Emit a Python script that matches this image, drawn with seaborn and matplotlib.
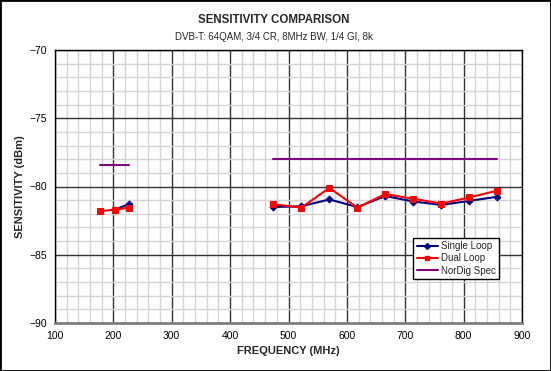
import matplotlib
matplotlib.use("Agg")
import matplotlib.pyplot as plt
import seaborn as sns
import pandas as pd
from matplotlib.ticker import MultipleLocator
from matplotlib.lines import Line2D
from matplotlib.patches import Rectangle

# --- Data ---
single_low_freq = [202, 226]
single_low = [-81.7, -81.3]
dual_low_freq = [177, 202, 226]
dual_low = [-81.8, -81.7, -81.55]

high_freq = [474, 522, 570, 618, 666, 714, 762, 810, 858]
single_high = [-81.5, -81.45, -80.95, -81.5, -80.7, -81.1, -81.35, -81.05, -80.75]
dual_high = [-81.3, -81.55, -80.1, -81.55, -80.55, -80.9, -81.25, -80.8, -80.3]

spec_low_freq = [177, 226]
spec_low = [-78.4, -78.4]
spec_high_freq = [474, 858]
spec_high = [-78.0, -78.0]

NAVY = "#000080"
RED = "#ff0000"
PURPLE = "#800080"

sns.set_style("white")
plt.rcParams["font.family"] = ["Liberation Sans", "DejaVu Sans"]

fig = plt.figure(figsize=(5.51, 3.71), dpi=100)
ax = fig.add_axes([55 / 551, (371 - 323) / 371, 467 / 551, 273 / 371])

# --- Series, drawn segment by segment (gap between VHF and UHF) ---
for fx, fy in [(single_low_freq, single_low), (high_freq, single_high)]:
    sns.lineplot(x=fx, y=fy, ax=ax, color=NAVY, marker="D", markersize=3.5,
                 markeredgecolor=NAVY, lw=1.5, estimator=None, sort=False, zorder=4)
for fx, fy in [(dual_low_freq, dual_low), (high_freq, dual_high)]:
    sns.lineplot(x=fx, y=fy, ax=ax, color=RED, marker="s", markersize=4.8,
                 markeredgecolor=RED, lw=1.5, estimator=None, sort=False, zorder=5)
for fx, fy in [(spec_low_freq, spec_low), (spec_high_freq, spec_high)]:
    sns.lineplot(x=fx, y=fy, ax=ax, color=PURPLE, lw=1.5, estimator=None,
                 sort=False, zorder=3)

ax.set_xlim(100, 900)
ax.set_ylim(-90, -70)
ax.xaxis.set_major_locator(MultipleLocator(100))
ax.xaxis.set_minor_locator(MultipleLocator(20))
ax.yaxis.set_major_locator(MultipleLocator(5))
ax.yaxis.set_minor_locator(MultipleLocator(1))
ax.grid(which="minor", color="#d4d4d4", lw=1, zorder=0)
ax.grid(which="major", color="#333333", lw=1, zorder=1)
ax.set_axisbelow(True)
ax.tick_params(which="minor", length=0)
ax.tick_params(which="major", length=4, width=1, direction="out",
               labelsize=7.5, colors="black", pad=2)

for side in ["top", "right", "left"]:
    ax.spines[side].set_color("black")
    ax.spines[side].set_linewidth(1)
ax.spines["bottom"].set_color("#808080")
ax.spines["bottom"].set_linewidth(2)

ax.set_xlabel("FREQUENCY (MHz)", fontsize=8, fontweight="bold", labelpad=3)
ax.set_ylabel("SENSITIVITY (dBm)", fontsize=8, fontweight="bold")
ax.yaxis.set_label_coords(-0.064, 0.5)

fig.text(274 / 551, 1 - 20 / 371, "SENSITIVITY COMPARISON",
         ha="center", va="center", fontsize=8.3, fontweight="bold")
fig.text(274 / 551, 1 - 37 / 371, "DVB-T: 64QAM, 3/4 CR, 8MHz BW, 1/4 GI, 8k",
         ha="center", va="center", fontsize=7)

handles = [
    Line2D([], [], color=NAVY, marker="D", markersize=3, lw=1.5, label="Single Loop"),
    Line2D([], [], color=RED, marker="s", markersize=3.5, lw=1.5, label="Dual Loop"),
    Line2D([], [], color=PURPLE, lw=1.5, label="NorDig Spec"),
]
leg = ax.legend(handles=handles, loc="upper left", bbox_to_anchor=(0.767, 0.313),
                fontsize=7, frameon=True, fancybox=False, framealpha=1,
                edgecolor="black", borderpad=0.35, labelspacing=0.25,
                handlelength=2.2, handletextpad=0.3, borderaxespad=0)
leg.get_frame().set_linewidth(1)
leg.set_zorder(10)

fig.patches.append(Rectangle((0, 0), 1, 1, transform=fig.transFigure, fill=False,
                             lw=2, ec="black"))

fig.savefig("out.png", dpi=100)
